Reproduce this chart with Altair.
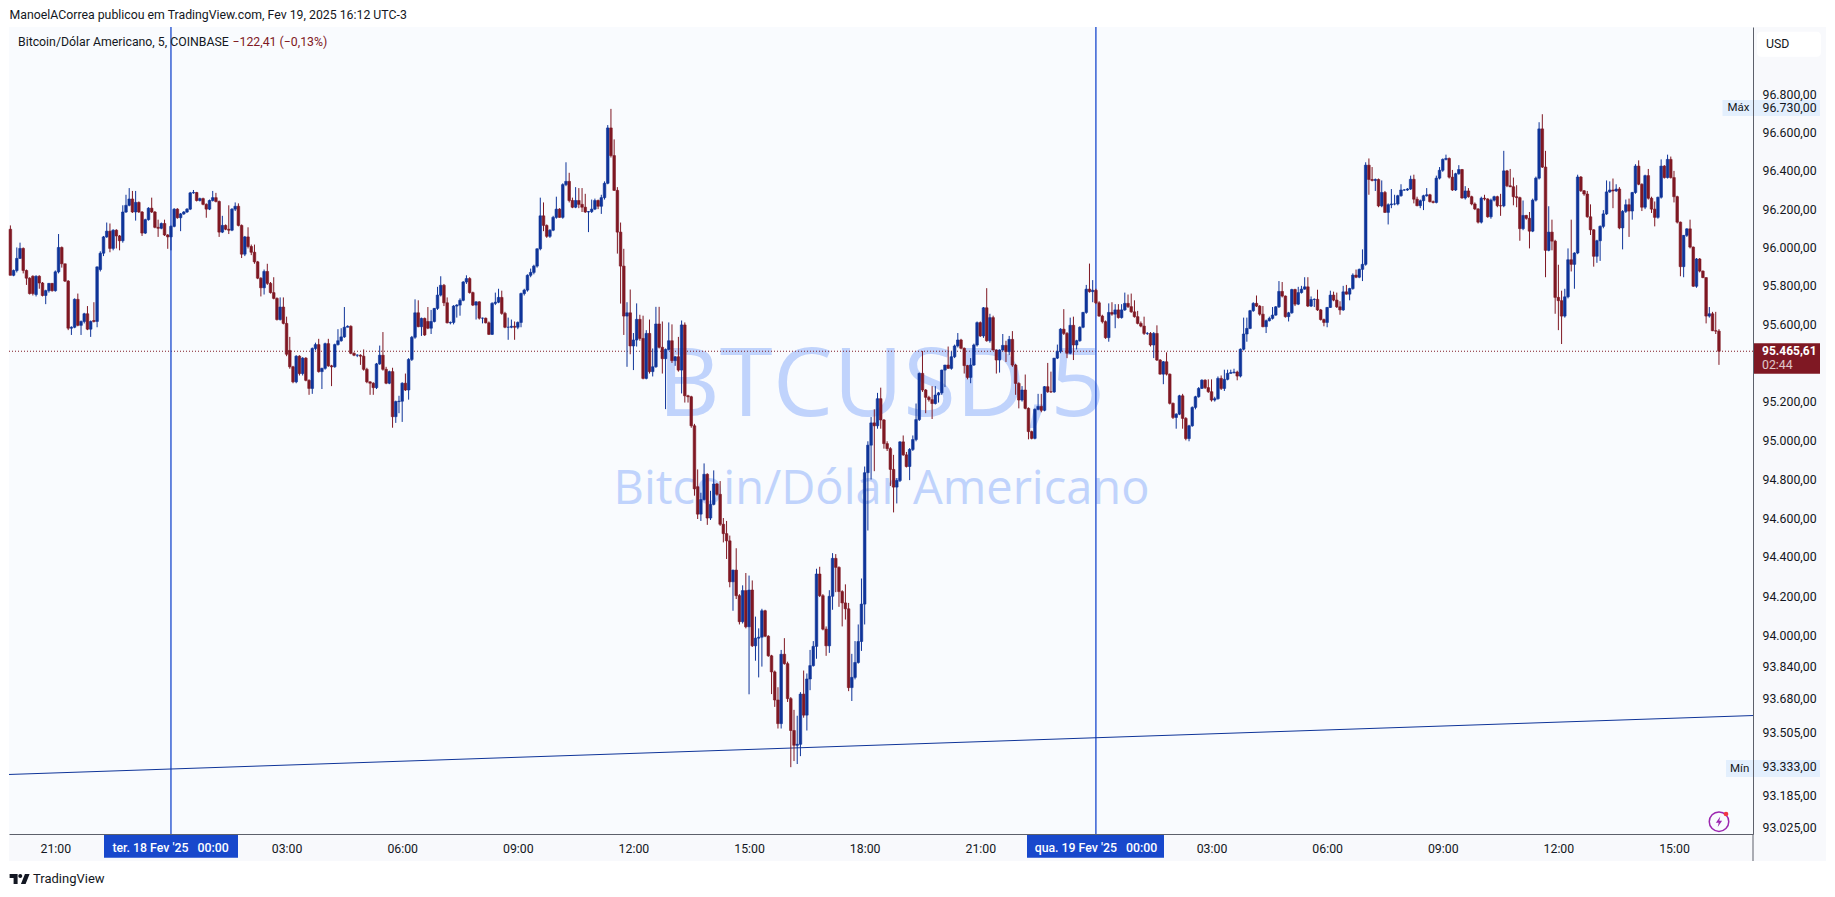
import altair as alt
import pandas as pd

# Candle values, ten bars per group (open, high, low, close)
o, h, l, c = [], [], [], []
o += [96100,95860,95885,95948,96000,95885,95845,95855,95760,95855]
h += [96120,95890,96005,96030,96005,95890,95850,95860,95860,95860]
l += [95860,95855,95875,95945,95870,95810,95760,95755,95750,95790]
c += [95860,95885,95948,96000,95885,95845,95765,95765,95855,95820]

o += [95820,95755,95780,95818,95780,95878,96005,95920,95830,95585]
h += [95825,95785,95820,95820,95885,96075,96010,95920,95835,95595]
l += [95750,95710,95770,95775,95775,95870,95900,95825,95575,95550]
c += [95755,95780,95818,95780,95878,96005,95920,95830,95585,95590]

o += [95590,95735,95600,95620,95660,95580,95625,95620,95890,95975]
h += [95740,95765,95625,95665,95700,95625,95720,95905,95985,96065]
l += [95585,95595,95550,95610,95575,95540,95615,95590,95880,95960]
c += [95735,95600,95620,95660,95580,95620,95620,95904,95975,96060]

o += [96060,96090,96000,96095,96065,96040,96190,96225,96258,96190]
h += [96135,96130,96100,96100,96070,96225,96280,96315,96300,96300]
l += [96055,95980,95990,96000,95990,96030,96185,96220,96185,96145]
c += [96090,96000,96095,96065,96040,96190,96225,96258,96190,96240]

o += [96240,96190,96080,96150,96210,96190,96110,96105,96130,96070]
h += [96245,96195,96155,96215,96265,96195,96150,96135,96150,96075]
l += [96185,96065,96075,96145,96185,96105,96060,96100,96065,95998]
c += [96190,96080,96150,96210,96190,96110,96105,96130,96070,96060]

o += [96060,96115,96205,96160,96180,96190,96205,96290,96292,96250]
h += [96120,96210,96210,96185,96195,96210,96295,96305,96295,96265]
l += [95990,96110,96155,96090,96175,96185,96200,96285,96245,96245]
c += [96115,96205,96160,96180,96190,96205,96290,96292,96250,96260]

o += [96260,96230,96205,96250,96265,96245,96085,96120,96100,96095]
h += [96265,96235,96255,96300,96290,96250,96170,96125,96225,96210]
l += [96225,96160,96200,96245,96240,96060,96080,96095,96075,96090]
c += [96230,96205,96250,96265,96245,96085,96120,96100,96095,96205]

o += [96205,96220,96120,95970,96060,96010,95980,95930,95845,95795]
h += [96240,96235,96125,96065,96110,96020,96020,95935,95850,95890]
l += [96195,96115,95950,95960,96000,95965,95920,95840,95750,95760]
c += [96220,96120,95970,96060,96010,95980,95930,95845,95795,95880]

o += [95880,95818,95770,95740,95630,95695,95610,95470,95385,95307]
h += [95920,95825,95850,95745,95745,95745,95645,95540,95390,95445]
l += [95810,95765,95735,95625,95625,95605,95440,95375,95300,95300]
c += [95818,95770,95740,95630,95695,95610,95450,95385,95307,95440]

o += [95440,95350,95430,95315,95273,95480,95500,95360,95377,95505]
h += [95445,95435,95435,95320,95485,95510,95530,95380,95510,95530]
l += [95340,95340,95310,95240,95245,95470,95355,95270,95370,95385]
c += [95350,95430,95315,95273,95480,95500,95360,95377,95505,95390]

o += [95390,95385,95500,95520,95540,95590,95595,95455,95445,95445]
h += [95395,95505,95580,95585,95695,95600,95600,95460,95450,95450]
l += [95285,95380,95495,95515,95535,95590,95450,95440,95435,95395]
c += [95385,95500,95520,95540,95590,95595,95455,95445,95445,95440]

o += [95440,95372,95307,95300,95277,95400,95445,95372,95300,95360]
h += [95475,95380,95310,95305,95405,95495,95565,95385,95365,95380]
l += [95365,95300,95240,95240,95270,95395,95365,95295,95295,95070]
c += [95372,95307,95300,95277,95400,95445,95372,95300,95360,95127]

o += [95127,95205,95207,95300,95265,95423,95538,95665,95593,95636]
h += [95210,95235,95305,95350,95430,95545,95735,95730,95640,95640]
l += [95095,95145,95100,95260,95215,95415,95530,95590,95545,95545]
c += [95205,95207,95300,95265,95423,95538,95665,95593,95636,95550]

o += [95620,95585,95620,95688,95757,95808,95717,95613,95615,95700]
h += [95695,95680,95690,95800,95855,95815,95745,95620,95705,95710]
l += [95580,95555,95615,95680,95750,95700,95610,95605,95605,95640]
c += [95585,95620,95688,95757,95808,95717,95613,95615,95700,95705]

o += [95705,95730,95825,95843,95770,95705,95722,95637,95637,95613]
h += [95740,95830,95860,95850,95775,95725,95725,95640,95640,95620]
l += [95650,95725,95815,95765,95700,95630,95630,95610,95610,95550]
c += [95730,95825,95843,95770,95705,95722,95637,95637,95613,95553]

o += [95553,95714,95720,95745,95662,95590,95590,95595,95590,95615]
h += [95720,95770,95790,95780,95670,95640,95630,95620,95620,95770]
l += [95550,95705,95715,95655,95585,95525,95585,95525,95580,95590]
c += [95714,95720,95745,95662,95590,95590,95595,95590,95615,95765]

o += [95765,95783,95860,95875,95908,95998,96170,96120,96063,96095]
h += [95790,95865,95895,95915,96000,96265,96240,96125,96100,96170]
l += [95755,95775,95850,95865,95900,95990,96090,96055,96055,96090]
c += [95783,95860,95875,95908,95998,96170,96120,96063,96095,96162]

o += [96162,96205,96162,96333,96350,96250,96215,96250,96230,96215]
h += [96270,96210,96340,96450,96395,96265,96320,96315,96315,96285]
l += [96155,96160,96155,96325,96240,96210,96210,96210,96190,96185]
c += [96205,96162,96333,96350,96250,96215,96250,96230,96215,96190]

o += [96190,96192,96205,96250,96220,96265,96340,96630,96485,96303]
h += [96195,96255,96260,96255,96280,96350,96645,96730,96570,96320]
l += [96085,96185,96200,96205,96180,96255,96335,96475,96300,95973]
c += [96192,96205,96250,96220,96265,96340,96630,96485,96303,96085]

o += [96085,95908,95648,95665,95493,95524,95631,95532,95325,95558]
h += [96135,95998,95720,95786,95560,95714,95655,95650,95575,95630]
l += [95713,95550,95385,95450,95368,95490,95520,95320,95320,95350]
c += [95908,95648,95665,95493,95524,95631,95532,95325,95558,95360]

o += [95360,95385,95607,95486,95427,95475,95520,95417,95437,95368]
h += [95480,95696,95696,95620,95480,95615,95605,95440,95540,95625]
l += [95335,95380,95480,95350,95166,95470,95405,95390,95360,95247]
c += [95385,95607,95486,95427,95475,95520,95417,95437,95368,95602]

o += [95602,95235,95230,95080,94766,94625,94700,94830,94605,94675]
h += [95615,95240,95235,95090,94855,94735,94886,94835,94745,94850]
l += [95200,95200,95070,94720,94600,94590,94695,94570,94595,94670]
c += [95235,95230,95080,94755,94625,94700,94830,94605,94675,94780]

o += [94780,94727,94573,94525,94488,94278,94338,94207,94074,94233]
h += [94785,94795,94605,94590,94515,94340,94450,94215,94260,94323]
l += [94720,94565,94480,94395,94250,94130,94190,94060,94065,94040]
c += [94727,94573,94525,94488,94278,94338,94207,94074,94233,94048]

o += [94048,94236,93951,93990,93995,94130,94000,93900,93818,93675]
h += [94310,94285,94100,94040,94140,94135,94005,93905,93825,93740]
l += [93704,93945,93875,93790,93845,93995,93895,93705,93640,93530]
c += [94236,93951,93990,93995,94130,94000,93900,93818,93675,93555]

o += [93555,93908,93860,93682,93520,93445,93450,93705,93598,93782]
h += [93930,93990,93870,93690,93625,93595,93715,93825,93810,93930]
l += [93530,93855,93665,93334,93365,93350,93390,93585,93520,93725]
c += [93908,93860,93682,93520,93445,93450,93705,93598,93782,93850]

o += [93850,93948,94318,94207,94036,93951,94204,94398,94352,94228]
h += [93975,94345,94355,94215,94050,94235,94425,94420,94357,94235]
l += [93845,93885,94200,94030,93900,93915,94135,94225,94150,94050]
c += [93948,94318,94207,94036,93951,94204,94398,94352,94228,94170]

o += [94170,94140,93738,93790,93866,93973,94164,94838,94980,95095]
h += [94265,94170,93910,93975,94060,94295,94870,95000,95125,95165]
l += [94085,93720,93670,93780,93860,93925,94060,94541,94803,94846]
c += [94140,93738,93790,93866,93973,94164,94838,94980,95095,95080]

o += [95080,95220,95110,94988,94962,94855,94764,94798,94997,94930]
h += [95250,95277,95115,95000,94970,94930,94810,95000,95030,94945]
l += [95065,95065,94962,94950,94770,94634,94680,94790,94925,94865]
c += [95220,95110,94988,94962,94855,94764,94798,94997,94930,94870]

o += [94870,94958,95009,95112,95351,95265,95227,95215,95195,95239]
h += [94965,95030,95195,95355,95467,95270,95235,95285,95285,95255]
l += [94800,94950,95000,95105,95255,95145,95205,95115,95190,95200]
c += [94958,95009,95112,95351,95265,95227,95215,95195,95239,95250]

o += [95250,95368,95394,95377,95437,95493,95524,95481,95391,95330]
h += [95370,95395,95490,95465,95500,95560,95530,95485,95395,95430]
l += [95240,95280,95375,95370,95430,95485,95475,95350,95320,95300]
c += [95368,95394,95377,95437,95493,95524,95481,95391,95330,95394]

o += [95394,95498,95614,95545,95691,95520,95640,95472,95420,95472]
h += [95505,95620,95620,95695,95793,95660,95650,95475,95475,95555]
l += [95390,95490,95540,95535,95515,95510,95470,95350,95355,95465]
c += [95498,95614,95545,95691,95520,95640,95472,95420,95472,95496]

o += [95496,95463,95527,95394,95299,95213,95265,95170,95050,95015]
h += [95520,95545,95570,95400,95305,95285,95345,95175,95055,95170]
l += [95410,95445,95385,95240,95170,95205,95165,95010,95010,95010]
c += [95463,95527,95394,95299,95213,95265,95170,95050,95015,95165]

o += [95165,95180,95160,95282,95256,95255,95430,95465,95580,95558]
h += [95245,95245,95285,95405,95360,95430,95500,95585,95684,95565]
l += [95160,95150,95155,95250,95250,95250,95425,95455,95550,95430]
c += [95180,95160,95282,95256,95255,95430,95465,95580,95558,95455]

o += [95455,95600,95498,95520,95590,95667,95788,95775,95782,95717]
h += [95640,95645,95525,95595,95670,95810,95921,95835,95790,95725]
l += [95450,95420,95475,95515,95585,95660,95770,95720,95710,95645]
c += [95600,95498,95520,95590,95667,95788,95775,95782,95717,95648]

o += [95648,95619,95536,95667,95658,95680,95640,95680,95714,95697]
h += [95655,95625,95714,95720,95710,95710,95710,95770,95760,95765]
l += [95610,95530,95515,95650,95585,95635,95635,95675,95690,95665]
c += [95619,95536,95667,95658,95680,95640,95680,95714,95697,95670]

o += [95670,95645,95610,95596,95558,95558,95498,95558,95420,95347]
h += [95730,95675,95620,95645,95565,95565,95565,95600,95425,95415]
l += [95640,95605,95590,95550,95550,95490,95430,95415,95345,95295]
c += [95645,95610,95596,95558,95558,95498,95558,95420,95347,95411]

o += [95411,95347,95196,95123,95140,95235,95118,95014,95080,95175]
h += [95460,95350,95200,95145,95240,95245,95125,95085,95180,95235]
l += [95340,95190,95115,95065,95135,95065,95005,95000,95075,95165]
c += [95347,95196,95123,95140,95235,95118,95014,95080,95175,95230]

o += [95230,95273,95316,95277,95256,95213,95220,95325,95273,95320]
h += [95280,95320,95320,95320,95320,95230,95335,95340,95370,95370]
l += [95225,95270,95270,95250,95205,95205,95215,95265,95260,95315]
c += [95273,95316,95277,95256,95213,95220,95325,95273,95320,95351]

o += [95351,95355,95358,95337,95476,95555,95584,95676,95714,95700]
h += [95370,95375,95365,95480,95640,95640,95680,95720,95755,95705]
l += [95350,95350,95315,95330,95470,95515,95580,95670,95695,95650]
c += [95355,95358,95337,95476,95555,95584,95676,95714,95700,95658]

o += [95658,95593,95624,95636,95653,95696,95776,95752,95645,95665]
h += [95700,95630,95645,95695,95700,95830,95825,95755,95670,95790]
l += [95590,95560,95620,95630,95650,95690,95745,95640,95620,95660]
c += [95593,95624,95636,95653,95696,95776,95752,95645,95665,95786]

o += [95786,95710,95770,95788,95800,95700,95734,95735,95680,95630]
h += [95790,95800,95805,95850,95850,95750,95740,95785,95685,95635]
l += [95700,95705,95765,95785,95695,95695,95695,95675,95625,95595]
c += [95710,95770,95788,95800,95700,95734,95735,95680,95630,95615]

o += [95615,95693,95757,95731,95696,95680,95774,95762,95791,95861]
h += [95695,95780,95775,95770,95725,95805,95810,95795,95870,95890]
l += [95590,95690,95725,95690,95655,95675,95760,95730,95785,95845]
c += [95693,95757,95731,95696,95680,95774,95762,95791,95861,95850]

o += [95850,95891,95917,96435,96360,96355,96360,96222,96292,96188]
h += [95895,95995,96450,96470,96425,96365,96365,96355,96300,96235]
l += [95845,95830,95910,96280,96350,96300,96215,96215,96185,96125]
c += [95891,95917,96435,96360,96355,96360,96222,96292,96188,96228]

o += [96228,96232,96232,96275,96305,96305,96310,96361,96257,96223]
h += [96310,96280,96280,96335,96310,96315,96380,96385,96270,96255]
l += [96210,96225,96225,96270,96300,96300,96305,96235,96220,96210]
c += [96232,96232,96275,96305,96305,96310,96361,96257,96223,96249]

o += [96249,96275,96280,96244,96240,96367,96408,96465,96470,96372]
h += [96280,96315,96285,96250,96380,96425,96470,96490,96475,96410]
l += [96200,96270,96240,96235,96235,96360,96400,96460,96365,96300]
c += [96275,96280,96244,96240,96367,96408,96465,96470,96372,96305]

o += [96305,96390,96412,96263,96300,96270,96232,96206,96137,96262]
h += [96395,96435,96415,96325,96315,96275,96240,96210,96270,96280]
l += [96300,96385,96260,96255,96265,96225,96200,96130,96130,96250]
c += [96390,96412,96263,96300,96270,96232,96206,96137,96262,96258]

o += [96258,96165,96252,96270,96223,96222,96405,96327,96322,96270]
h += [96262,96260,96275,96275,96285,96510,96410,96415,96370,96330]
l += [96160,96155,96245,96215,96170,96215,96320,96320,96225,96215]
c += [96165,96252,96270,96223,96222,96405,96327,96322,96270,96265]

o += [96265,96103,96172,96157,96090,96252,96367,96625,96425,95990]
h += [96270,96250,96175,96190,96260,96375,96660,96702,96510,96220]
l += [96040,96095,96150,96000,96085,96245,96360,96420,95850,95985]
c += [96103,96172,96157,96090,96252,96367,96625,96425,95990,96085]

o += [96085,96038,95745,95728,95648,95748,95941,95917,95976,96373]
h += [96150,96045,95915,95780,95790,96000,96150,95980,96385,96378]
l += [95990,95660,95575,95503,95640,95740,95880,95790,95970,96295]
c += [96038,95745,95728,95648,95748,95941,95917,95976,96373,96301]

o += [96301,96284,96165,96097,95959,96040,96115,96180,96295,96305]
h += [96305,96300,96230,96100,96045,96120,96200,96355,96350,96365]
l += [96275,96160,96070,95905,95925,95935,96105,96175,96290,96210]
c += [96284,96165,96097,95959,96040,96115,96180,96295,96305,96300]

o += [96300,96310,96107,96193,96228,96195,96292,96430,96335,96215]
h += [96335,96320,96200,96255,96260,96295,96440,96460,96340,96385]
l += [96295,96100,95995,96185,96060,96150,96285,96330,96195,96205]
c += [96310,96107,96193,96228,96195,96292,96430,96335,96215,96380]

o += [96380,96262,96205,96162,96267,96430,96370,96465,96370,96270]
h += [96415,96270,96245,96270,96465,96435,96490,96480,96405,96275]
l += [96255,96185,96115,96155,96260,96365,96365,96365,96240,96130]
c += [96262,96205,96162,96267,96430,96370,96465,96370,96270,96137]

o += [96137,95905,96068,96102,96007,95803,95945,95882,95848,95648]
h += [96140,96070,96105,96150,96010,95950,95950,95885,95850,95695]
l += [95855,95850,96060,96000,95800,95795,95875,95845,95610,95640]
c += [95905,96068,96102,96007,95803,95945,95882,95848,95648,95660]

o += [95660,95572,95570]
h += [95670,95670,95580]
l += [95570,95555,95395]
c += [95572,95570,95465.61]

y_ticks = [96800,96730,96600,96400,96200,96000,95800,95600,95200,95000,94800,94600,
           94400,94200,94000,93840,93680,93505,93333,93185,93025]
x_tick_bars = [14,86,122,158,194,230,266,302,374,410,446,482,518]
x_tick_text = ["21:00","03:00","06:00","09:00","12:00","15:00","18:00","21:00",
               "03:00","06:00","09:00","12:00","15:00"]
day_bars = [50,338]
trend_bars = [-0.43,542.6]
trend_prices = [93297,93596]
last_price = 95465.61

W, H = 1744, 807
BLUE, RED = "#0f3499", "#7f1823"
INK, LINE = "#131722", "#5d606b"
PLOT_BG, STRIP_BG, TAG_BG = "#f9fbfe", "#f8f9fc", "#e3effd"
FONT = "Roboto"
WM_FONT = "Open Sans"

assert len(o) == len(h) == len(l) == len(c)
bars = pd.DataFrame({"i": range(len(o)), "o": o, "h": h, "l": l, "c": c})
bars["dir"] = ["up" if b >= a else "down" for a, b in zip(o, c)]

xs = alt.Scale(domain=[-0.43, 542.6], nice=False, zero=False, padding=0)
ys = alt.Scale(type="log", domain=[92996, 97161], nice=False)
cs = alt.Scale(domain=["up", "down"], range=[BLUE, RED])
col = alt.Color("dir:N", scale=cs, legend=None)

label_map = ",".join(f"'{b}':'{t}'" for b, t in zip(x_tick_bars, x_tick_text))
x_axis = alt.Axis(values=x_tick_bars, labelExpr="{" + label_map + "}[datum.value]", title=None,
                  grid=False, ticks=False, domainColor=LINE, labelColor=INK, labelFont=FONT,
                  labelFontSize=12.3, labelPadding=8, labelOverlap=False, zindex=1)
y_axis = alt.Axis(values=y_ticks, orient="right", title=None, grid=False, ticks=False,
                  domainColor=LINE, labelColor=INK, labelFont=FONT, labelFontSize=12.3,
                  labelPadding=9, labelOverlap=False, labelOffset=-1, zindex=1,
                  labelExpr="replace(replace(replace(format(datum.value,',.2f'),',','#'),'.',','),'#','.')")
X = alt.X("i:Q", scale=xs, axis=x_axis, title=None)


def Y(field):
    return alt.Y(field, scale=ys, axis=y_axis, title=None)


def rect(x1, x2, y1, y2, color, radius=0):
    return alt.Chart(pd.DataFrame({"a": [0]})).mark_rect(color=color, cornerRadius=radius).encode(
        x=alt.value(x1), x2=alt.value(x2), y=alt.value(y1), y2=alt.value(y2))


def text(s, x, y, size=12.3, color=INK, align="left", weight="normal", font=FONT, opacity=1):
    return alt.Chart(pd.DataFrame({"t": [s]})).mark_text(
        align=align, baseline="middle", fontSize=size, color=color, fontWeight=weight,
        font=font, opacity=opacity).encode(x=alt.value(x), y=alt.value(y), text="t:N")


def symbol(shape, x, y, size, fill=None, stroke=None, sw=1.5):
    kw = {"shape": shape, "size": size, "opacity": 1}
    if fill:
        kw.update(filled=True, fill=fill, strokeWidth=0)
    else:
        kw.update(filled=False, stroke=stroke, strokeWidth=sw)
    return alt.Chart(pd.DataFrame({"a": [0]})).mark_point(**kw).encode(x=alt.value(x), y=alt.value(y))


panels = [
    rect(W, W + 73, 0, H + 27, STRIP_BG),
    rect(0, W, H, H + 27, STRIP_BG),
    rect(1757 - 9, 1821 - 9, 31.7 - 27, 56.7 - 27, "white", radius=4),
]

watermark = [
    text("BTCUSD,5", 872.5, 387 - 27, size=96, color="#c0d3fc", align="center", font=WM_FONT),
    text("Bitcoin/Dólar Americano", 872.5, 490 - 27, size=47, color="#c0d3fc", align="center", font=WM_FONT),
]

day_lines = alt.Chart(pd.DataFrame({"i": day_bars})).mark_rule(color="#1848cc", strokeWidth=1.3).encode(x=X)
trend = alt.Chart(pd.DataFrame({"i": trend_bars, "p": trend_prices})).mark_line(
    color=BLUE, strokeWidth=1).encode(x=X, y=Y("p:Q"))
price_line = alt.Chart(pd.DataFrame({"p": [last_price]})).mark_rule(
    color=RED, strokeWidth=1, strokeDash=[1, 2]).encode(
    y=Y("p:Q"), x=alt.value(0), x2=alt.value(W))
wicks = alt.Chart(bars).mark_rule(strokeWidth=1).encode(
    x=X, y=Y("l:Q"), y2="h:Q", color=col)
bodies = alt.Chart(bars).mark_bar(size=2.6, strokeWidth=0.6).encode(
    x=X, y=Y("o:Q"), y2="c:Q", color=col, stroke=col)

tags = [
    rect(1722.5 - 9, 1820 - 9, 100 - 27, 116 - 27, TAG_BG),
    rect(1726 - 9, 1820 - 9, 760 - 27, 777 - 27, TAG_BG),
    text("Máx", 1727.5 - 9, 108 - 27, size=11.5),
    text("Mín", 1730 - 9, 768.5 - 27, size=11.5),
    rect(W, 1820 - 9, 343.3 - 27, 373.7 - 27, RED),
    text("95.465,61", 1762 - 9, 351 - 27, size=12, color="white", weight="bold"),
    text("02:44", 1762 - 9, 365 - 27, color="white", opacity=0.75),
    rect(95, 229, H, H + 23.7, "#1848cc"),
    rect(1018, 1155, H, H + 23.7, "#1848cc"),
    text("ter. 18 Fev '25\u00a0\u00a0\u00a000:00", 161.6, 821, color="white", align="center", weight=500),
    text("qua. 19 Fev '25\u00a0\u00a0\u00a000:00", 1087, 821, color="white", align="center", weight=500),
    rect(W - 0.5, W + 0.5, H, H + 27, LINE),
]

header = [
    text("ManoelACorrea publicou em TradingView.com, Fev 19, 2025 16:12 UTC-3", 0.5, -12),
    text("Bitcoin/Dólar Americano, 5, COINBASE", 9, 14.7),
    text("−122,41 (−0,13%)", 223.5, 14.7, color=RED),
    text("USD", 1766 - 9, 44.3 - 27),
    text("TradingView", 33 - 9, 879 - 27, size=13),
]

TV_LOGO = ("M-.2 -.5H-1V-.1H-.6V.5H-.2Z M.6 .5H.133L.533 -.5H1Z "
           "M.067 -.1A.2 .2 0 1 0 .067 -.5A.2 .2 0 0 0 .067 -.1Z")
BOLT = "M.25 -1L-.6 .2H-.05L-.25 1L.6 -.2H.05Z"
icons = [
    symbol(TV_LOGO, 19.6 - 9, 879 - 27, 400, fill=INK),
    symbol("circle", 1719 - 9, 821.7 - 27, 380, stroke="#9c27b0", sw=1.5),
    symbol(BOLT, 1719 - 9, 821.7 - 27, 110, fill="#9c27b0"),
    symbol("circle", 1726 - 9, 814 - 27, 22, fill="#f23645"),
]

chart = alt.layer(
    *panels, *watermark, price_line, day_lines, trend, wicks, bodies, *tags, *header, *icons
).properties(
    width=W, height=H,
    padding={"left": 1, "top": 19, "right": 74, "bottom": 54},
    autosize=alt.AutoSizeParams(type="none"),
    background="white",
).configure_view(fill=PLOT_BG, stroke=None)

chart.save("out.html", embed_options={"renderer": "svg", "actions": False})
